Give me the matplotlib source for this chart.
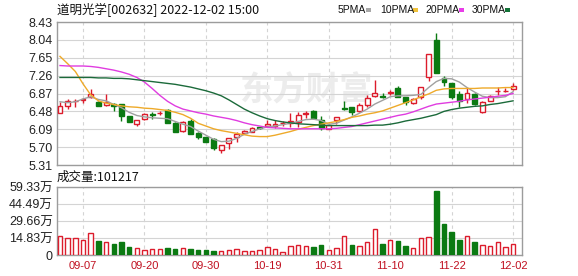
import matplotlib
matplotlib.use("Agg")
import matplotlib.pyplot as plt
import numpy as np

plt.rcParams['font.family'] = ['Liberation Sans', 'Noto Sans CJK SC']

# ---------------- data ----------------
dates = ["09-02","09-05","09-06","09-07","09-08","09-09","09-13","09-14","09-15","09-16",
         "09-19","09-20","09-21","09-22","09-23","09-26","09-27","09-28","09-29","09-30",
         "10-10","10-11","10-12","10-13","10-14","10-17","10-18","10-19","10-20","10-21",
         "10-24","10-25","10-26","10-27","10-28","10-31","11-01","11-02","11-03","11-04",
         "11-07","11-08","11-09","11-10","11-11","11-14","11-15","11-16","11-17","11-18",
         "11-21","11-22","11-23","11-24","11-25","11-28","11-29","11-30","12-01","12-02"]

opens = [6.45, 6.60, 6.70, 6.73, 6.79, 6.69, 6.62, 6.64, 6.64, 6.38,
         6.21, 6.31, 6.42, 6.44, 6.52, 6.23, 6.05, 6.28, 6.015, 5.91,
         5.88, 5.64, 5.79, 5.91, 6.015, 6.04, 6.13, 6.15, 6.15, 6.22,
         6.22, 6.255, 6.43, 6.49, 6.29, 6.10, 6.29, 6.55, 6.57, 6.495,
         6.62, 6.815, 6.81, 6.89, 7.00, 6.79, 6.67, 6.80, 7.225, 8.03,
         7.20, 7.09, 6.85, 6.75, 6.85, 6.46, 6.715, 6.92, 6.92, 6.96]
highs = [6.69, 6.74, 6.76, 6.78, 6.96, 6.70, 6.86, 6.66, 6.65, 6.39,
         6.30, 6.45, 6.46, 6.48, 6.54, 6.24, 6.26, 6.31, 6.02, 5.92,
         5.89, 5.75, 5.90, 6.04, 6.07, 6.13, 6.15, 6.29, 6.30, 6.28,
         6.45, 6.47, 6.49, 6.50, 6.38, 6.21, 6.36, 6.71, 6.58, 6.66,
         6.84, 7.165, 6.89, 6.95, 7.03, 6.80, 6.77, 7.02, 7.74, 8.19,
         7.26, 7.10, 6.93, 6.99, 6.89, 6.70, 6.83, 7.02, 6.98, 7.09]
lows = [6.44, 6.53, 6.58, 6.66, 6.78, 6.59, 6.60, 6.48, 6.28, 6.24,
        6.16, 6.30, 6.31, 6.40, 6.22, 6.03, 6.04, 5.98, 5.88, 5.81,
        5.64, 5.58, 5.67, 5.82, 6.00, 6.02, 6.10, 6.14, 6.11, 6.17,
        6.15, 6.15, 6.33, 6.32, 6.07, 6.09, 6.205, 6.50, 6.40, 6.47,
        6.58, 6.80, 6.77, 6.83, 6.79, 6.62, 6.65, 6.75, 7.14, 7.31,
        7.03, 6.75, 6.58, 6.67, 6.63, 6.45, 6.70, 6.84, 6.90, 6.95]
closes = [6.60, 6.71, 6.71, 6.74, 6.85, 6.60, 6.69, 6.60, 6.38, 6.255,
          6.29, 6.42, 6.41, 6.45, 6.23, 6.04, 6.24, 5.99, 5.91, 5.82,
          5.68, 5.74, 5.89, 5.985, 6.06, 6.125, 6.12, 6.21, 6.205, 6.23,
          6.28, 6.40, 6.44, 6.33, 6.11, 6.19, 6.35, 6.54, 6.47, 6.62,
          6.765, 6.89, 6.80, 6.90, 6.80, 6.69, 6.75, 7.005, 7.725, 7.32,
          7.115, 6.80, 6.71, 6.875, 6.64, 6.69, 6.815, 6.925, 6.925, 7.035]

ma5 = [6.69, 6.67, 6.69, 6.75, 6.80, 6.74, 6.71, 6.63, 6.56, 6.46,
       6.39, 6.36, 6.34, 6.33, 6.32, 6.26, 6.20, 6.15, 6.05, 5.96,
       5.87, 5.82, 5.83, 5.89, 5.98, 6.04, 6.10, 6.14, 6.16, 6.19,
       6.22, 6.26, 6.30, 6.31, 6.28, 6.20, 6.22, 6.29, 6.36, 6.44,
       6.53, 6.64, 6.72, 6.80, 6.82, 6.82, 6.83, 6.85, 7.00, 7.13,
       7.20, 7.19, 7.12, 7.00, 6.90, 6.81, 6.78, 6.78, 6.80, 6.91]
ma10 = [7.68, 7.52, 7.35, 7.08, 6.84, 6.71, 6.66, 6.63, 6.60, 6.58,
        6.57, 6.55, 6.54, 6.52, 6.50, 6.46, 6.41, 6.33, 6.22, 6.16,
        6.10, 6.06, 6.03, 6.00, 5.97, 5.94, 5.93, 5.93, 5.96, 6.00,
        6.04, 6.09, 6.13, 6.17, 6.20, 6.23, 6.26, 6.30, 6.35, 6.38,
        6.42, 6.45, 6.49, 6.55, 6.61, 6.67, 6.73, 6.80, 6.86, 6.94,
        6.97, 6.98, 6.98, 6.98, 6.98, 6.99, 6.99, 6.99, 7.00, 7.00]
ma20 = [7.48, 7.47, 7.47, 7.47, 7.46, 7.44, 7.41, 7.38, 7.34, 7.29,
        7.22, 7.12, 6.98, 6.83, 6.70, 6.60, 6.53, 6.49, 6.45, 6.42,
        6.38, 6.35, 6.32, 6.28, 6.23, 6.19, 6.16, 6.13, 6.12, 6.11,
        6.10, 6.10, 6.10, 6.10, 6.10, 6.10, 6.11, 6.13, 6.15, 6.19,
        6.23, 6.27, 6.31, 6.35, 6.39, 6.42, 6.47, 6.53, 6.59, 6.64,
        6.66, 6.68, 6.70, 6.73, 6.75, 6.77, 6.79, 6.81, 6.83, 6.87]
ma30 = [7.22, 7.22, 7.22, 7.22, 7.22, 7.21, 7.21, 7.20, 7.20, 7.19,
        7.17, 7.15, 7.13, 7.11, 7.09, 7.07, 7.04, 7.01, 6.97, 6.93,
        6.88, 6.82, 6.73, 6.63, 6.53, 6.45, 6.38, 6.32, 6.28, 6.25,
        6.23, 6.21, 6.20, 6.19, 6.18, 6.17, 6.17, 6.17, 6.17, 6.17,
        6.17, 6.18, 6.18, 6.20, 6.23, 6.27, 6.30, 6.33, 6.37, 6.41,
        6.48, 6.52, 6.55, 6.57, 6.59, 6.60, 6.63, 6.65, 6.68, 6.71]

# volume in 万 (10k shares), colour flag 1 = red (up), 0 = green (down)
volume = [16.9, 14.8, 14.8, 13.4, 19.2, 12.5, 11.3, 9.6, 11.3, 7.0,
          5.8, 4.1, 5.2, 5.2, 6.1, 5.2, 6.1, 5.2, 4.4, 4.4,
          3.5, 3.5, 4.4, 5.2, 3.5, 3.5, 4.4, 7.0, 5.2, 2.6,
          7.9, 8.7, 7.9, 7.0, 8.7, 4.4, 6.1, 16.6, 8.7, 7.9,
          11.3, 22.7, 9.6, 12.8, 12.2, 7.9, 6.1, 14.8, 15.7, 55.8,
          27.0, 20.1, 13.1, 16.6, 11.3, 8.7, 7.9, 11.3, 7.0, 9.6]
vol_up = [1, 1, 1, 1, 1, 0, 1, 0, 0, 0,
          1, 1, 1, 1, 0, 0, 1, 0, 0, 0,
          0, 1, 1, 1, 1, 1, 1, 1, 1, 1,
          1, 1, 1, 0, 0, 1, 1, 1, 0, 1,
          1, 1, 0, 1, 0, 0, 1, 1, 1, 0,
          0, 0, 0, 1, 0, 1, 1, 1, 1, 1]

price_ticks = [5.31, 5.70, 6.09, 6.48, 6.87, 7.26, 7.65, 8.04, 8.43]
vol_ticks = [0, 14.83, 29.66, 44.49, 59.33]
vol_tick_labels = ["0", "14.83万", "29.66万", "44.49万", "59.33万"]
shown_dates = ["09-07", "09-20", "09-30", "10-19", "10-31", "11-10", "11-22", "12-02"]

title = "道明光学[002632] 2022-12-02 15:00"
vol_label = "成交量:101217"
legend_names = ["5PMA", "10PMA", "20PMA", "30PMA"]

# ---------------- style ----------------
RED = "#dc1c2c"
GREEN = "#0b7a12"
GRID = "#d4d4d4"
FRAME = "#9c9c9c"
MA_COLORS = ["#a0a0a0", "#eeaa2a", "#e03ce0", "#1b6a3a"]
LEG_COLORS = ["#a8a8a8", "#f0c23a", "#e83ce8", "#137338"]

W, H = 578, 276
fig = plt.figure(figsize=(W / 100, H / 100), dpi=100)

def box(l, t, r, b):
    return [l / W, 1 - b / H, (r - l) / W, (b - t) / H]

axp = fig.add_axes(box(57, 22, 522, 165))
axv = fig.add_axes(box(57, 187, 522, 255))

x = np.arange(len(dates))
xlim = (-0.39, 60.16)
date_pos = [dates.index(d) for d in shown_dates]

for ax in (axp, axv):
    ax.set_xlim(*xlim)
    ax.set_axisbelow(True)
    for s in ax.spines.values():
        s.set_color(FRAME)
        s.set_linewidth(1.0)
    for p in date_pos:
        ax.axvline(p, color=GRID, lw=0.8, ls=(0, (3, 3)), zorder=0)
    ax.tick_params(length=0, labelsize=9, colors="#222222", pad=3)

# price panel
axp.set_ylim(price_ticks[0], price_ticks[-1])
axp.set_yticks(price_ticks)
axp.set_yticklabels([f"{v:.2f}" for v in price_ticks])
axp.yaxis.grid(True, color=GRID, lw=0.8)
axp.set_xticks([])

axp.text(0.535, 0.515, "东方财富", transform=axp.transAxes, ha="center", va="center",
         fontsize=24, fontweight="bold", color="#ececec", zorder=0.5,
         family=["Noto Sans CJK SC"])

o = np.array(opens); c = np.array(closes)
up = c >= o
cols = np.where(up, RED, GREEN)
axp.vlines(x, lows, highs, colors=cols, lw=1.0, zorder=2)
bottoms = np.minimum(o, c)
heights = np.maximum(np.abs(c - o), 0.004)
axp.bar(x[up], heights[up], bottom=bottoms[up], width=0.64, facecolor="white",
        edgecolor=RED, linewidth=1.0, zorder=3)
axp.bar(x[~up], heights[~up], bottom=bottoms[~up], width=0.64, facecolor=GREEN,
        edgecolor=GREEN, linewidth=1.0, zorder=3)

for series, col in zip([ma5, ma10, ma20, ma30], MA_COLORS):
    axp.plot(x, series, color=col, lw=1.0, zorder=4)

# volume panel
axv.set_ylim(0, vol_ticks[-1])
axv.set_yticks(vol_ticks)
axv.set_yticklabels(vol_tick_labels)
axv.yaxis.grid(True, color=GRID, lw=0.8)
axv.set_xticks(date_pos)
axv.set_xticklabels(shown_dates, fontsize=8, color="#c01020")
axv.tick_params(axis="x", pad=4)

vu = np.array(vol_up, dtype=bool)
vol = np.array(volume)
axv.bar(x[vu], vol[vu], width=0.58, facecolor="white", edgecolor=RED, linewidth=1.0, zorder=3)
axv.bar(x[~vu], vol[~vu], width=0.58, facecolor=GREEN, edgecolor=GREEN, linewidth=1.0, zorder=3)

# texts
fig.text(57 / W, 1 - 10 / H, title, ha="left", va="center", fontsize=9,
         family=["Noto Sans CJK SC"], color="#111111")
fig.text(57 / W, 1 - 177 / H, vol_label, ha="left", va="center", fontsize=9,
         family=["Noto Sans CJK SC"], color="#111111")

leg_text_x = [338, 380, 425, 472]
leg_mark_x = [366, 413, 459, 505]
for name, tx, mx, col in zip(legend_names, leg_text_x, leg_mark_x, LEG_COLORS):
    fig.text(tx / W, 1 - 10 / H, name, ha="left", va="center", fontsize=7.5, color="#111111")
    fig.patches.append(plt.Rectangle((mx / W, 1 - 11.5 / H), 5 / W, 3 / H,
                                     transform=fig.transFigure, facecolor=col,
                                     edgecolor="none", figure=fig))

fig.savefig("out.png", dpi=100)
